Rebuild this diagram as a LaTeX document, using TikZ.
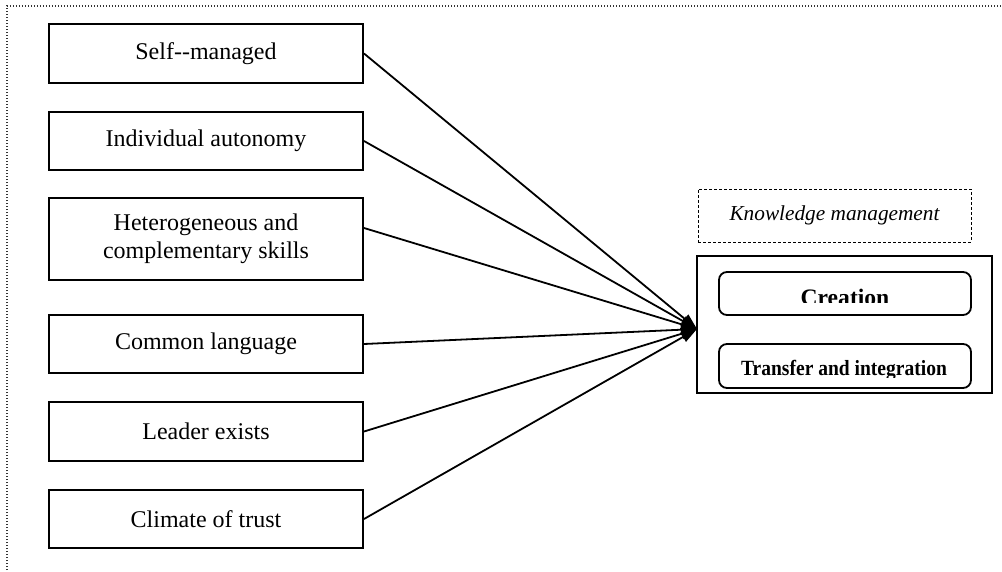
\documentclass[tikz,border=0pt]{standalone}
\usepackage{fontspec}
\setmainfont{Liberation Serif}
\usetikzlibrary{arrows.meta}
\begin{document}
\begin{tikzpicture}[x=1pt,y=-1pt,
  lbox/.style={draw,line width=2pt,minimum width=314pt,inner sep=0pt,align=center,
    font=\fontsize{24}{28}\selectfont},
  conn/.style={line width=1.8pt,-{Triangle[length=16pt,width=11pt]}},
  outer/.style={draw=black!80,line width=1.2pt,dash pattern=on 1.2pt off 1.8pt},
  kmbox/.style={draw,line width=0.9pt,dash pattern=on 3pt off 2pt,minimum width=273pt,minimum height=53pt,
    inner sep=0pt,font=\fontsize{21.3}{25}\selectfont\itshape},
  bigbox/.style={draw,line width=2pt,minimum width=295pt,minimum height=137pt,inner sep=0pt},
  rbox/.style={draw,line width=1.8pt,rounded corners=8pt,minimum width=252pt,inner sep=0pt}
]
\useasboundingbox (0,0) rectangle (1002,572);
\draw[outer] (7,600) -- (7,6) -- (1030,6);

\node[lbox,minimum height=59pt] (b1) at (206,53.5) {Self-{}-managed};
\node[lbox,minimum height=58pt] (b2) at (206,141) {Individual autonomy};
\node[lbox,minimum height=82pt] (b3) at (206,239) {Heterogeneous and\\complementary skills};
\node[lbox,minimum height=58pt] (b4) at (206,344) {Common language};
\node[lbox,minimum height=59pt] (b5) at (206,431.5) {Leader exists};
\node[lbox,minimum height=58pt] (b6) at (206,519) {Climate of trust};

\node[kmbox] (km) at (834.5,215.5) {Knowledge management};
\node[bigbox] (big) at (844.5,324.5) {};
\node[rbox,minimum height=43pt] (cr) at (845,293.5) {};
\node[rbox,minimum height=44pt] (tr) at (845,366) {};

\begin{scope}
  \clip (720,270) rectangle (970,303);
  \node[anchor=base,inner sep=0pt,font=\fontsize{23.6}{28}\selectfont\bfseries] (crt) at (845,305.5) {Creation};
\end{scope}
\begin{scope}
  \clip (720,340) rectangle (970,377.5);
  \node[anchor=base,inner sep=0pt,font=\fontsize{21.7}{26}\selectfont\bfseries,xscale=0.9] (trt) at (844,375) {Transfer and integration};
\end{scope}

\coordinate (tip) at (697,329);
\draw[conn] (b1.east) -- (tip);
\draw[conn] (b2.east) -- (tip);
\draw[conn] ([yshift=11pt]b3.east) -- (tip);
\draw[conn] (b4.east) -- (tip);
\draw[conn] (b5.east) -- (tip);
\draw[conn] (b6.east) -- (tip);
\end{tikzpicture}
\end{document}
